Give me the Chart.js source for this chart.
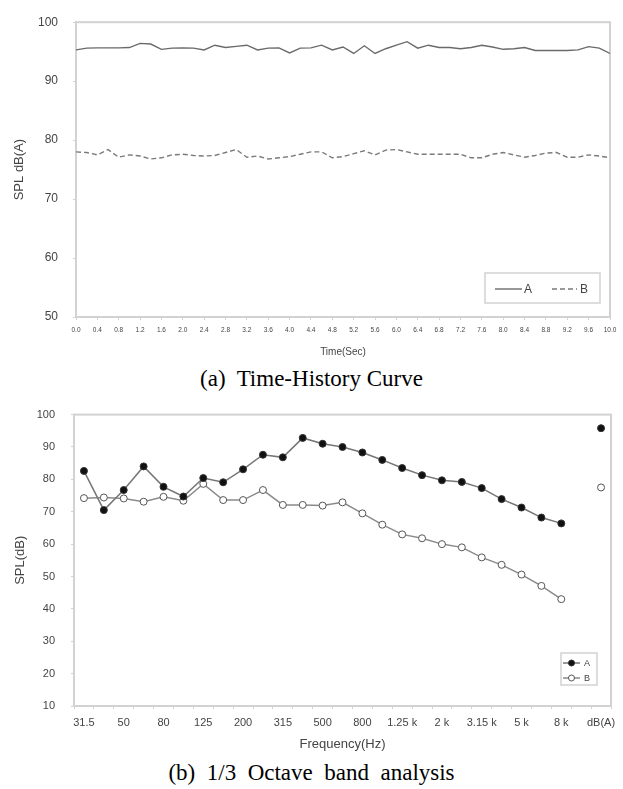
<!DOCTYPE html>
<html>
<head>
<meta charset="utf-8">
<script src="https://cdn.jsdelivr.net/npm/chart.js@4.4.0/dist/chart.umd.min.js"></script>
<style>
    body { margin: 0; background: #fff; width: 623px; height: 789px; position: relative; overflow: hidden; }
    #chart1 { position: absolute; left: 0; top: 0; }
    #chart2 { position: absolute; left: 0; top: 392px; }
    .caption { position: absolute; left: 0; width: 623px; text-align: center; font-family: "Liberation Serif", "Times New Roman", serif; font-size: 23px; line-height: 23px; white-space: pre; color: #000; }
</style>
</head>
<body>
<canvas id="chart1" width="623" height="365"></canvas>
<div class="caption" style="top:367px">(a)  Time-History Curve</div>
<canvas id="chart2" width="623" height="360"></canvas>
<div class="caption" style="top:761px">(b)  1/3  Octave  band  analysis</div>
<script>
// time history, sampled every 0.2 s
const timeSec = [0.0, 0.2, 0.4, 0.6, 0.8, 1.0, 1.2, 1.4, 1.6, 1.8,
    2.0, 2.2, 2.4, 2.6, 2.8, 3.0, 3.2, 3.4, 3.6, 3.8,
    4.0, 4.2, 4.4, 4.6, 4.8, 5.0, 5.2, 5.4, 5.6, 5.8,
    6.0, 6.2, 6.4, 6.6, 6.8, 7.0, 7.2, 7.4, 7.6, 7.8,
    8.0, 8.2, 8.4, 8.6, 8.8, 9.0, 9.2, 9.4, 9.6, 9.8, 10.0];
const levelA = [95.3, 95.6, 95.65, 95.65, 95.65, 95.7, 96.4, 96.3, 95.4, 95.6,
    95.65, 95.6, 95.3, 96.1, 95.7, 95.9, 96.1, 95.3, 95.6, 95.65,
    94.8, 95.6, 95.65, 96.1, 95.3, 95.8, 94.7, 96.0, 94.7, 95.5,
    96.1, 96.7, 95.6, 96.1, 95.7, 95.7, 95.5, 95.7, 96.1, 95.8,
    95.4, 95.5, 95.7, 95.2, 95.2, 95.2, 95.2, 95.3, 95.85, 95.6, 94.7];
const levelB = [78.0, 77.9, 77.5, 78.4, 77.1, 77.5, 77.3, 76.8, 77.0, 77.5,
    77.6, 77.4, 77.3, 77.4, 77.9, 78.4, 77.1, 77.3, 76.8, 77.0,
    77.2, 77.6, 78.0, 78.0, 77.0, 77.2, 77.7, 78.2, 77.5, 78.3,
    78.4, 78.0, 77.6, 77.6, 77.6, 77.6, 77.6, 77.0, 77.0, 77.6,
    77.9, 77.5, 77.1, 77.4, 77.8, 77.9, 77.1, 77.1, 77.5, 77.3, 77.0];

// 1/3 octave bands, blank slot before the overall dB(A)
const bands = ['31.5', '40', '50', '63', '80', '100', '125', '160', '200', '250',
    '315', '400', '500', '630', '800', '1 k', '1.25 k', '1.6 k', '2 k', '2.5 k',
    '3.15 k', '4 k', '5 k', '6.3 k', '8 k', '', 'dB(A)'];
const bandA = [82.6, 70.5, 76.7, 84.0, 77.7, 74.7, 80.4, 79.1, 83.1, 87.6,
    86.8, 92.8, 91.0, 90.0, 88.3, 86.0, 83.5, 81.3, 79.7, 79.2,
    77.3, 73.9, 71.3, 68.2, 66.4, null, 95.8];
const bandB = [74.2, 74.4, 74.1, 73.1, 74.6, 73.4, 78.6, 73.6, 73.6, 76.7,
    72.1, 72.1, 71.9, 72.9, 69.5, 66.0, 63.0, 61.8, 60.0, 59.0,
    55.9, 53.6, 50.6, 47.1, 43.0, null, 77.5];

Chart.defaults.font.family = '"Liberation Sans", Arial, sans-serif';
Chart.defaults.color = '#444';

const frameColor = '#d2d2d2';

// box around the plot area
const frame = {
    id: 'frame',
    beforeDatasetsDraw(chart) {
        const {ctx, chartArea} = chart;
        ctx.save();
        ctx.strokeStyle = frameColor;
        ctx.lineWidth = 2;
        ctx.strokeRect(chartArea.left, chartArea.top, chartArea.width, chartArea.height);
        ctx.restore();
    }
};

// legend drawn inside the lower right corner of the plot
const boxLegend = {
    id: 'boxLegend',
    afterDatasetsDraw(chart, args, opts) {
        const {ctx, chartArea} = chart;
        const x0 = chartArea.right - opts.right - opts.width;
        const y0 = chartArea.bottom - opts.bottom - opts.height;
        ctx.save();
        ctx.fillStyle = '#fff';
        ctx.fillRect(x0, y0, opts.width, opts.height);
        ctx.strokeStyle = frameColor;
        ctx.lineWidth = 1.5;
        ctx.strokeRect(x0, y0, opts.width, opts.height);
        ctx.font = opts.fontSize + 'px "Liberation Sans", Arial, sans-serif';
        ctx.textBaseline = 'middle';
        chart.data.datasets.forEach((ds, i) => {
            const it = opts.items[i];
            const y = y0 + it.y;
            ctx.strokeStyle = ds.borderColor;
            ctx.lineWidth = ds.borderWidth;
            ctx.setLineDash(ds.borderDash || []);
            ctx.beginPath();
            ctx.moveTo(x0 + it.x, y);
            ctx.lineTo(x0 + it.x + it.len, y);
            ctx.stroke();
            ctx.setLineDash([]);
            if (ds.pointRadius) {
                ctx.beginPath();
                ctx.arc(x0 + it.x + it.len / 2, y, ds.pointRadius - 0.5, 0, Math.PI * 2);
                ctx.fillStyle = ds.pointBackgroundColor;
                ctx.fill();
                ctx.strokeStyle = ds.pointBorderColor;
                ctx.lineWidth = 1;
                ctx.stroke();
            }
            ctx.fillStyle = '#444';
            ctx.fillText(ds.label, x0 + it.textX, y + 1);
        });
        ctx.restore();
    }
};

// chart1 - time history
new Chart(document.getElementById('chart1'), {
    type: 'line',
    data: {
        datasets: [{
            label: 'A',
            data: timeSec.map((t, i) => ({x: t, y: levelA[i]})),
            borderColor: '#6a6a6a',
            borderWidth: 1.4,
            pointRadius: 0
        }, {
            label: 'B',
            data: timeSec.map((t, i) => ({x: t, y: levelB[i]})),
            borderColor: '#7a7a7a',
            borderWidth: 1.4,
            borderDash: [5, 3],
            pointRadius: 0
        }]
    },
    options: {
        responsive: false,
        animation: false,
        layout: {padding: {top: 10, right: 13, left: 0, bottom: 0}},
        plugins: {
            legend: {display: false},
            tooltip: {enabled: false},
            boxLegend: {
                width: 115, height: 30, right: 10, bottom: 14, fontSize: 12,
                items: [
                    {x: 10, len: 27, textX: 39, y: 16},
                    {x: 67, len: 25, textX: 95, y: 16}
                ]
            }
        },
        scales: {
            x: {
                type: 'linear',
                min: 0,
                max: 10,
                afterFit: (scale) => { scale.height = 48; },
                ticks: {
                    stepSize: 0.4,
                    autoSkip: false,
                    maxRotation: 0,
                    padding: 6,
                    font: {size: 6.5},
                    callback: (v) => v.toFixed(1)
                },
                grid: {drawOnChartArea: false, tickLength: 3, color: frameColor},
                border: {color: frameColor, width: 2},
                title: {display: true, text: 'Time(Sec)', font: {size: 10}, padding: {top: 0, bottom: 7}}
            },
            y: {
                min: 50,
                max: 100,
                afterFit: (scale) => { scale.width = 76; },
                ticks: {stepSize: 10, padding: 15, font: {size: 12}},
                grid: {drawOnChartArea: false, tickLength: 3, color: frameColor},
                border: {color: frameColor, width: 2},
                title: {display: true, text: 'SPL dB(A)', font: {size: 13}, padding: {top: 12, bottom: 0}}
            }
        }
    },
    plugins: [frame, boxLegend]
});

// chart2 - 1/3 octave band spectrum
new Chart(document.getElementById('chart2'), {
    type: 'line',
    data: {
        labels: bands,
        datasets: [{
            label: 'A',
            data: bandA,
            borderColor: '#767676',
            borderWidth: 1.5,
            pointRadius: 3.5,
            pointBackgroundColor: '#111',
            pointBorderColor: '#333',
            pointBorderWidth: 1
        }, {
            label: 'B',
            data: bandB,
            borderColor: '#8a8a8a',
            borderWidth: 1.5,
            pointRadius: 3.5,
            pointBackgroundColor: '#fff',
            pointBorderColor: '#555',
            pointBorderWidth: 1
        }]
    },
    options: {
        responsive: false,
        animation: false,
        layout: {padding: {top: 9, right: 12, left: 0, bottom: 0}},
        plugins: {
            legend: {display: false},
            tooltip: {enabled: false},
            boxLegend: {
                width: 36, height: 32, right: 14, bottom: 21, fontSize: 9,
                items: [
                    {x: 2, len: 17, textX: 23, y: 10},
                    {x: 2, len: 17, textX: 23, y: 25}
                ]
            }
        },
        scales: {
            x: {
                type: 'category',
                offset: true,
                afterFit: (scale) => { scale.height = 46; },
                ticks: {
                    autoSkip: false,
                    maxRotation: 0,
                    padding: 7,
                    font: {size: 11},
                    callback: function (v, i) { return i % 2 === 0 ? this.getLabelForValue(v) : ''; }
                },
                grid: {offset: true, drawOnChartArea: false, tickLength: 3, color: frameColor},
                border: {color: frameColor, width: 2},
                title: {display: true, text: 'Frequency(Hz)', font: {size: 13}, padding: {top: 0, bottom: 0}}
            },
            y: {
                min: 10,
                max: 100,
                afterFit: (scale) => { scale.width = 74; },
                ticks: {stepSize: 10, padding: 16, font: {size: 11}},
                grid: {drawOnChartArea: false, tickLength: 3, color: frameColor},
                border: {color: frameColor, width: 2},
                title: {display: true, text: 'SPL(dB)', font: {size: 13}, padding: {top: 13, bottom: 0}}
            }
        }
    },
    plugins: [frame, boxLegend]
});
</script>
</body>
</html>
